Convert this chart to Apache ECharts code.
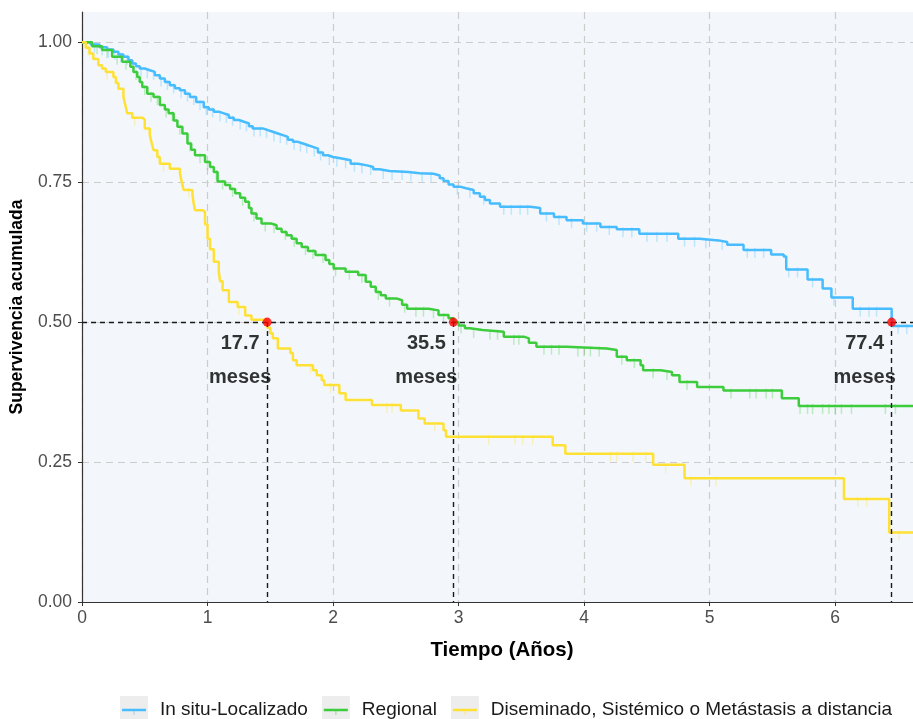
<!DOCTYPE html>
<html>
<head>
<meta charset="utf-8">
<script src="https://cdn.jsdelivr.net/npm/echarts@6/dist/echarts.min.js"></script>
<style>
  html, body { margin: 0; padding: 0; background: #fff; }
  #chart { width: 913px; height: 719px; }
</style>
</head>
<body>
<div id="chart"></div>
<script>
  // grupos (estadio)
  const groupNames = ["In situ-Localizado", "Regional", "Diseminado, Sistémico o Metástasis a distancia"];
  const groupColors = ["#47BCFF", "#3CCC3C", "#FFE135"];

  // Kaplan-Meier: tiempo (años) y supervivencia tras cada salto
  const inSituTimes = [0, 0.07, 0.14, 0.2, 0.25, 0.29, 0.33, 0.37, 0.4, 0.43, 0.46, 0.5, 0.54, 0.58, 0.62, 0.66, 0.7, 0.74, 0.78, 0.82, 0.86, 0.91, 0.97, 1.01, 1.05, 1.09, 1.13, 1.17, 1.21, 1.25, 1.29, 1.33, 1.36, 1.44, 1.48, 1.52, 1.56, 1.6, 1.64, 1.68, 1.72, 1.76, 1.8, 1.84, 1.88, 1.92, 1.96, 2.0, 2.08, 2.14, 2.2, 2.27, 2.32, 2.37, 2.45, 2.6, 2.69, 2.8, 2.85, 2.88, 2.92, 2.96, 3.01, 3.06, 3.12, 3.17, 3.21, 3.25, 3.33, 3.57, 3.65, 3.76, 3.86, 3.99, 4.13, 4.26, 4.44, 4.75, 4.92, 5.07, 5.14, 5.27, 5.49, 5.59, 5.61, 5.78, 5.9, 5.97, 6.14, 6.45, 6.75];
  const inSituSurv = [1, 0.996, 0.991, 0.987, 0.983, 0.978, 0.974, 0.968, 0.962, 0.957, 0.953, 0.95, 0.947, 0.941, 0.935, 0.929, 0.923, 0.918, 0.914, 0.908, 0.902, 0.893, 0.884, 0.88, 0.876, 0.873, 0.87, 0.865, 0.861, 0.858, 0.855, 0.85, 0.846, 0.843, 0.84, 0.837, 0.834, 0.831, 0.826, 0.822, 0.819, 0.816, 0.813, 0.81, 0.803, 0.798, 0.795, 0.792, 0.789, 0.783, 0.78, 0.777, 0.773, 0.77, 0.768, 0.766, 0.765, 0.762, 0.757, 0.752, 0.746, 0.742, 0.739, 0.736, 0.73, 0.724, 0.718, 0.712, 0.706, 0.704, 0.694, 0.688, 0.682, 0.676, 0.67, 0.666, 0.658, 0.649, 0.646, 0.643, 0.638, 0.629, 0.621, 0.617, 0.594, 0.576, 0.56, 0.544, 0.524, 0.493, 0.493];

  const regionalTimes = [0, 0.08, 0.16, 0.24, 0.32, 0.385, 0.41, 0.44, 0.46, 0.48, 0.52, 0.57, 0.62, 0.66, 0.69, 0.73, 0.76, 0.8, 0.84, 0.87, 0.9, 0.98, 1.02, 1.05, 1.08, 1.14, 1.18, 1.22, 1.26, 1.3, 1.33, 1.35, 1.39, 1.43, 1.51, 1.55, 1.59, 1.63, 1.67, 1.71, 1.75, 1.8, 1.86, 1.94, 1.97, 2.005, 2.1, 2.2, 2.26, 2.3, 2.34, 2.38, 2.42, 2.51, 2.55, 2.59, 2.76, 2.84, 2.92, 2.96, 3.0, 3.05, 3.09, 3.19, 3.36, 3.52, 3.56, 3.62, 3.86, 4.18, 4.26, 4.34, 4.45, 4.47, 4.61, 4.7, 4.76, 4.9, 5.11, 5.575, 5.71, 6.75];
  const regionalSurv = [1, 0.993, 0.986, 0.974, 0.965, 0.956, 0.947, 0.938, 0.929, 0.92, 0.908, 0.902, 0.888, 0.88, 0.873, 0.86, 0.849, 0.837, 0.819, 0.808, 0.798, 0.786, 0.777, 0.768, 0.751, 0.745, 0.738, 0.73, 0.722, 0.715, 0.704, 0.694, 0.685, 0.676, 0.673, 0.667, 0.661, 0.655, 0.649, 0.641, 0.634, 0.627, 0.62, 0.611, 0.604, 0.596, 0.59, 0.584, 0.572, 0.563, 0.554, 0.548, 0.542, 0.539, 0.531, 0.524, 0.521, 0.5125, 0.507, 0.5, 0.494, 0.489, 0.486, 0.483, 0.474, 0.471, 0.463, 0.456, 0.453, 0.45, 0.438, 0.432, 0.423, 0.414, 0.411, 0.405, 0.393, 0.384, 0.378, 0.364, 0.35, 0.35];

  const distantTimes = [0, 0.03, 0.06, 0.09, 0.13, 0.16, 0.19, 0.25, 0.27, 0.29, 0.33, 0.345, 0.36, 0.4, 0.48, 0.5, 0.54, 0.555, 0.57, 0.6, 0.62, 0.7, 0.78, 0.795, 0.81, 0.88, 0.89, 0.9, 0.96, 0.98, 1.0, 1.02, 1.05, 1.09, 1.1, 1.12, 1.17, 1.24, 1.3, 1.35, 1.475, 1.5, 1.52, 1.56, 1.66, 1.68, 1.71, 1.84, 1.87, 1.91, 1.93, 2.05, 2.1, 2.31, 2.54, 2.68, 2.73, 2.88, 2.9, 3.75, 3.85, 4.55, 4.8, 6.07, 6.43, 6.75];
  const distantSurv = [1, 0.99, 0.98, 0.97, 0.959, 0.953, 0.947, 0.938, 0.927, 0.917, 0.902, 0.888, 0.873, 0.865, 0.862, 0.846, 0.834, 0.82, 0.807, 0.795, 0.783, 0.774, 0.766, 0.75, 0.736, 0.727, 0.712, 0.7, 0.697, 0.675, 0.649, 0.63, 0.608, 0.59, 0.573, 0.557, 0.536, 0.527, 0.512, 0.504, 0.49, 0.48, 0.471, 0.453, 0.445, 0.432, 0.423, 0.414, 0.405, 0.396, 0.3875, 0.373, 0.361, 0.352, 0.342, 0.328, 0.319, 0.307, 0.295, 0.28, 0.265, 0.245, 0.221, 0.184, 0.124, 0.124];

  // tiempos censurados (marcas)
  const inSituCensor = [0.1, 0.16, 0.21, 0.26, 0.31, 0.36, 0.41, 0.47, 0.52, 0.57, 0.63, 0.68, 0.73, 0.79, 0.84, 0.89, 0.94, 0.99, 1.04, 1.1, 1.15, 1.2, 1.26, 1.31, 1.37, 1.42, 1.47, 1.53, 1.58, 1.63, 1.69, 1.74, 1.79, 1.85, 1.9, 1.97, 2.03, 2.1, 2.17, 2.23, 2.3, 2.4, 2.47, 2.55, 2.62, 2.71, 2.78, 2.99, 3.09, 3.2, 3.36, 3.42, 3.49, 3.55, 3.7, 3.8, 3.9, 4.02, 4.1, 4.2, 4.31, 4.38, 4.5, 4.58, 4.66, 4.8, 4.88, 4.97, 5.1, 5.3, 5.36, 5.43, 5.63, 5.7, 5.82, 5.99, 6.2, 6.27, 6.33, 6.5, 6.57];
  const regionalCensor = [0.12, 0.2, 0.28, 0.35, 0.43, 0.5, 0.55, 0.6, 0.67, 0.72, 0.78, 0.86, 0.94, 1.0, 1.07, 1.12, 1.2, 1.28, 1.37, 1.46, 1.53, 1.62, 1.69, 1.78, 1.84, 1.92, 2.02, 2.13, 2.23, 2.36, 2.45, 2.57, 2.66, 2.72, 2.8, 2.88, 3.02, 3.12, 3.25, 3.31, 3.44, 3.48, 3.68, 3.74, 3.8, 3.95, 4.0, 4.05, 4.12, 4.3, 4.4, 4.55, 4.66, 4.82, 5.17, 5.32, 5.37, 5.45, 5.5, 5.72, 5.78, 5.82, 5.9, 5.95, 6.0, 6.05, 6.13, 6.4, 6.48];
  const distantCensor = [0.05, 0.2, 0.42, 0.65, 0.85, 1.25, 1.82, 1.98, 2.43, 2.47, 2.81, 3.24, 3.45, 3.51, 3.59, 4.21, 4.26, 4.39, 4.49, 4.65, 4.85, 5.05, 6.18, 6.25, 6.51];

  // mediana de supervivencia (meses)
  const medianMonths = [17.7, 35.5, 77.4];
  const medianLevel = 0.5;

  const xTicks = [0, 1, 2, 3, 4, 5, 6];
  const yTicks = [0, 0.25, 0.5, 0.75, 1];

  const FONT = "'Liberation Sans', Arial, sans-serif";

  const zip = (a, b) => a.map((v, i) => [v, b[i]]);
  const survAt = (times, surv, t) => {
    let s = surv[0];
    for (let i = 0; i < times.length; i++) if (times[i] <= t) s = surv[i];
    return s;
  };

  const curves = [
    [inSituTimes, inSituSurv, inSituCensor],
    [regionalTimes, regionalSurv, regionalCensor],
    [distantTimes, distantSurv, distantCensor],
  ];

  const iconFor = (c) =>
    "image://data:image/svg+xml;charset=utf-8," +
    encodeURIComponent(
      `<svg xmlns="http://www.w3.org/2000/svg" width="35" height="28">` +
        `<rect width="28" height="28" fill="#EDEDED"/>` +
        `<line x1="14" y1="14" x2="14" y2="19" stroke="${c}" stroke-opacity="0.35" stroke-width="1.5"/>` +
        `<line x1="2" y1="14" x2="26" y2="14" stroke="${c}" stroke-width="2.5"/></svg>`
    );

  const series = [];
  curves.forEach(([t, s, cens], i) => {
    series.push({
      name: groupNames[i] + " (censura)",
      type: "scatter",
      data: cens.map((c) => [c, survAt(t, s, c)]),
      symbol: "rect",
      symbolSize: [1.5, 10],
      symbolOffset: [0, 3],
      itemStyle: { color: groupColors[i], opacity: 0.3 },
      silent: true,
      z: 1,
    });
  });
  curves.forEach(([t, s], i) => {
    series.push({
      name: groupNames[i],
      type: "line",
      step: "end",
      data: zip(t, s),
      showSymbol: false,
      lineStyle: { color: groupColors[i], width: 2.5 },
      itemStyle: { color: groupColors[i] },
      z: 3,
    });
  });

  // lineas discontinuas de la mediana
  const medianYears = medianMonths.map((m) => m / 12);
  series.push({
    name: "mediana-lineas",
    type: "line",
    data: [],
    markLine: {
      silent: true,
      symbol: ["none", "none"],
      label: { show: false },
      lineStyle: { color: "#1a1a1a", type: [5, 4], width: 1.4 },
      data: [
        { yAxis: medianLevel },
        ...medianYears.map((y) => [{ coord: [y, medianLevel] }, { coord: [y, 0] }]),
      ],
    },
    z: 4,
  });
  series.push({
    name: "mediana",
    type: "scatter",
    data: medianYears.map((y) => [y, medianLevel]),
    symbolSize: 9,
    itemStyle: { color: "#FF0000" },
    label: {
      show: true,
      position: "bottom",
      distance: 0,
      offset: [-27, 0],
      formatter: (p) => medianMonths[p.dataIndex].toFixed(1) + "\nmeses",
      fontFamily: FONT,
      fontWeight: "bold",
      fontSize: 20,
      lineHeight: 34,
      color: "#000",
      align: "center",
    },
    z: 6,
  });

  const chart = echarts.init(document.getElementById("chart"));
  chart.setOption({
    animation: false,
    textStyle: { fontFamily: FONT },
    grid: {
      left: 82,
      right: 0,
      top: 12,
      bottom: 117,
      containLabel: false,
      outerBoundsMode: "none",
      show: true,
      backgroundColor: "#F3F7FB",
      borderWidth: 0,
    },
    legend: {
      left: 120,
      top: 696,
      padding: 0,
      itemWidth: 35,
      itemHeight: 28,
      itemGap: 14,
      textStyle: { fontFamily: FONT, fontSize: 19, color: "#1a1a1a" },
      data: groupNames.map((n, i) => ({ name: n, icon: iconFor(groupColors[i]) })),
    },
    xAxis: {
      type: "value",
      min: 0,
      max: 6.62,
      name: "Tiempo (Años)",
      nameLocation: "middle",
      nameGap: 38,
      nameTextStyle: { fontFamily: FONT, fontWeight: "bold", fontSize: 20.5, color: "#000", padding: [0, 0, 0, 9] },
      axisLine: { lineStyle: { color: "#333", width: 1.2 } },
      axisTick: { show: true, length: 4, lineStyle: { color: "#333" }, customValues: xTicks },
      axisLabel: { customValues: xTicks, margin: 7, fontSize: 17.5, color: "#4D4D4D", fontFamily: FONT },
      splitLine: { show: true, lineStyle: { color: "#CCCCCC", type: [7, 5], width: 1.2 } },
    },
    yAxis: {
      type: "value",
      min: 0,
      max: 1.054,
      name: "Supervivencia acumulada",
      nameLocation: "middle",
      nameGap: 56,
      nameTextStyle: { fontFamily: FONT, fontWeight: "bold", fontSize: 17.5, color: "#000" },
      axisLine: { show: true, lineStyle: { color: "#333", width: 1.2 } },
      axisTick: { show: true, length: 4, lineStyle: { color: "#333" }, customValues: yTicks },
      axisLabel: {
        customValues: yTicks,
        margin: 10,
        fontSize: 17.5,
        color: "#4D4D4D",
        fontFamily: FONT,
        formatter: (v) => v.toFixed(2),
      },
      splitLine: { show: true, lineStyle: { color: "#CCCCCC", type: [7, 5], width: 1.2 } },
    },
    series: series,
  });
</script>
</body>
</html>
